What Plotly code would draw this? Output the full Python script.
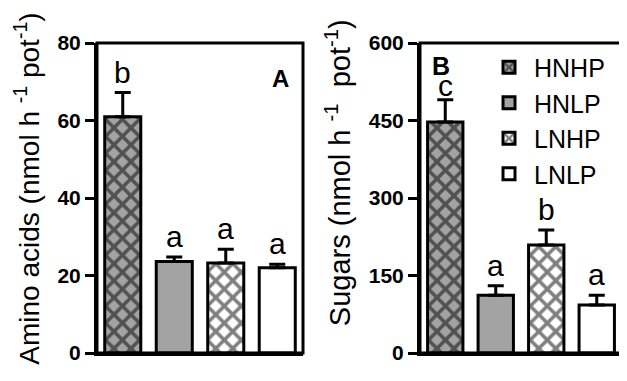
import plotly.graph_objects as go

treatments = ["HNHP", "HNLP", "LNHP", "LNLP"]
amino = [61.0, 23.6, 23.2, 22.0]
amino_err = [6.2, 1.2, 3.6, 0.9]
amino_letters = ["b", "a", "a", "a"]
sugars = [447, 112, 209, 93]
sugars_err = [43, 18, 29, 19]
sugars_letters = ["c", "a", "b", "a"]
amino_ticks = [0, 20, 40, 60, 80]
sugar_ticks = [0, 150, 300, 450, 600]

fills = {"HNHP": "#a3a3a3", "HNLP": "#a3a3a3", "LNHP": "#ffffff", "LNLP": "#ffffff"}
shapes_ = {"HNHP": "x", "HNLP": "", "LNHP": "x", "LNLP": ""}

FONT = "Liberation Sans, Arial, sans-serif"
W, H = 619, 373  # page body adds an 8px margin

fig = go.Figure()
for i, t in enumerate(treatments):
    for data, err, xa, ya, show in [(amino, amino_err, "x", "y", False),
                                    (sugars, sugars_err, "x2", "y2", True)]:
        fig.add_trace(go.Bar(
            x=[i], y=[data[i]], name=t, xaxis=xa, yaxis=ya, showlegend=show,
            width=0.7,
            marker=dict(color=fills[t], line=dict(color="black", width=3),
                        pattern=dict(shape=shapes_[t], fgcolor="black",
                                     bgcolor=fills[t], size=12, solidity=0.5)),
            error_y=dict(type="data", array=[err[i]], arrayminus=[0],
                         symmetric=False, color="black", thickness=3, width=8),
        ))

annotations = []
for i in range(4):
    annotations.append(dict(x=i, y=amino[i] + amino_err[i], xref="x", yref="y",
                            text=amino_letters[i], showarrow=False, yanchor="bottom",
                            xanchor="center", yshift=2,
                            font=dict(family=FONT, size=30, color="black")))
    annotations.append(dict(x=i, y=sugars[i] + sugars_err[i], xref="x2", yref="y2",
                            text=sugars_letters[i], showarrow=False, yanchor="bottom",
                            xanchor="center", yshift=-4 if i == 0 else 2,
                            font=dict(family=FONT, size=30, color="black")))

annotations += [
    dict(x=0.89, y=0.885, xref="x domain", yref="y domain", text="<b>A</b>",
         xanchor="center", yanchor="middle",
         showarrow=False, font=dict(family=FONT, size=24, color="black")),
    dict(x=0.105, y=0.927, xref="x2 domain", yref="y2 domain", text="<b>B</b>",
         xanchor="center", yanchor="middle",
         showarrow=False, font=dict(family=FONT, size=25, color="black")),
    dict(x=19 / W, y=0.53, xref="paper", yref="paper", textangle=-90,
         xanchor="center", yanchor="middle",
         text="Amino acids (nmol h <sup>-1</sup> pot<sup>-1</sup>)",
         showarrow=False, font=dict(family=FONT, size=28, color="black")),
    dict(x=330 / W, y=0.58, xref="paper", yref="paper", textangle=-90,
         xanchor="center", yanchor="middle",
         text="Sugars (nmol h <sup>-1</sup>  pot<sup>-1</sup>)",
         showarrow=False, font=dict(family=FONT, size=29, color="black")),
]

xcommon = dict(range=[-0.5, 3.5], showticklabels=False, ticks="", showline=True,
               linecolor="black", linewidth=3, showgrid=False,
               zeroline=False, fixedrange=True)
ycommon = dict(showline=True, linecolor="black", linewidth=3,
               ticks="outside", ticklen=9, tickwidth=3, tickcolor="black",
               showgrid=False, zeroline=False,
               tickfont=dict(family=FONT, size=21, color="black", weight="bold"))

frames = [dict(type="rect", xref=f"{ax} domain", yref=f"{ay} domain",
               x0=0, x1=1, y0=0, y1=1, line=dict(color="black", width=3))
          for ax, ay in [("x", "y"), ("x2", "y2")]]

fig.update_layout(
    width=W, height=H,
    margin=dict(l=0, r=0, t=35, b=28),
    paper_bgcolor="white", plot_bgcolor="white",
    barmode="overlay",
    showlegend=True,
    xaxis=dict(domain=[89 / W, 295 / W], anchor="y", **xcommon),
    xaxis2=dict(domain=[412 / W, 614 / W], anchor="y2", **xcommon),
    yaxis=dict(range=[0, 80], tickvals=amino_ticks, anchor="x", **ycommon),
    yaxis2=dict(range=[0, 600], tickvals=sugar_ticks, anchor="x2", **ycommon),
    legend=dict(x=0.769, y=0.995, xanchor="left", yanchor="top",
                bgcolor="rgba(0,0,0,0)", font=dict(family=FONT, size=25, color="black"),
                itemwidth=40, tracegroupgap=0),
    annotations=annotations,
    shapes=frames,
)

fig.write_html("out.html")
